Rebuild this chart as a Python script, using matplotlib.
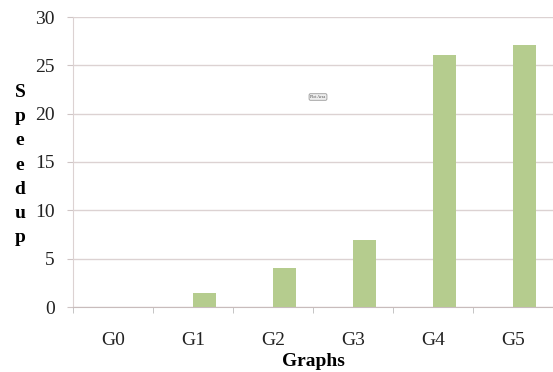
import matplotlib
matplotlib.use("Agg")
import matplotlib.pyplot as plt
from matplotlib.ticker import FixedLocator, NullFormatter

categories = ["G0", "G1", "G2", "G3", "G4", "G5"]
speedup = [0.0, 1.5, 4.0, 6.9, 26.1, 27.1]
yticks = [0, 5, 10, 15, 20, 25, 30]

plt.rcParams['font.family'] = ['Liberation Serif', 'DejaVu Serif']

fig = plt.figure(figsize=(5.53, 3.72), dpi=100)
ax = fig.add_axes([73/553, (372-307)/372, 480/553, 290/372])

x = list(range(len(categories)))
ax.bar(x, speedup, width=0.29, align='edge', color='#b5cc8e', zorder=3)

ax.set_xlim(-0.5, len(categories) - 0.5)
ax.set_ylim(0, 30)
ax.set_yticks(yticks)
ax.set_yticklabels([str(v) for v in yticks], fontsize=14, color='#222222')
ax.yaxis.grid(True, color='#dcd2d2', linewidth=1.0, zorder=0)

ax.set_xticks(x)
ax.set_xticklabels(categories, fontsize=14, color='#222222')
ax.tick_params(axis='x', which='major', length=0, pad=18)
ax.xaxis.set_minor_locator(FixedLocator([i - 0.5 for i in range(len(categories) + 1)]))
ax.xaxis.set_minor_formatter(NullFormatter())
ax.tick_params(axis='x', which='minor', length=4, color='#bbbbbb', direction='out')
ax.tick_params(axis='y', length=4, color='#cfc5c5', pad=9)

for s in ['top', 'right']:
    ax.spines[s].set_visible(False)
ax.spines['left'].set_color('#dcd2d2')
ax.spines['bottom'].set_color('#c8bcbc')

ax.set_xlabel("Graphs", fontsize=14, fontweight='bold', labelpad=3)
fig.text(20/553, 1 - 165/372, "\n".join("Speedup"), fontsize=14, fontweight='bold',
         ha='center', va='center', linespacing=1.54)

fig.text(318/553, 1 - 97/372, "Plot Area", fontsize=3, ha='center', va='center', color='#444444',
         bbox=dict(boxstyle='round,pad=0.3', facecolor='#eeeeee', edgecolor='#888888', linewidth=0.5))

fig.savefig("out.png", dpi=100)
